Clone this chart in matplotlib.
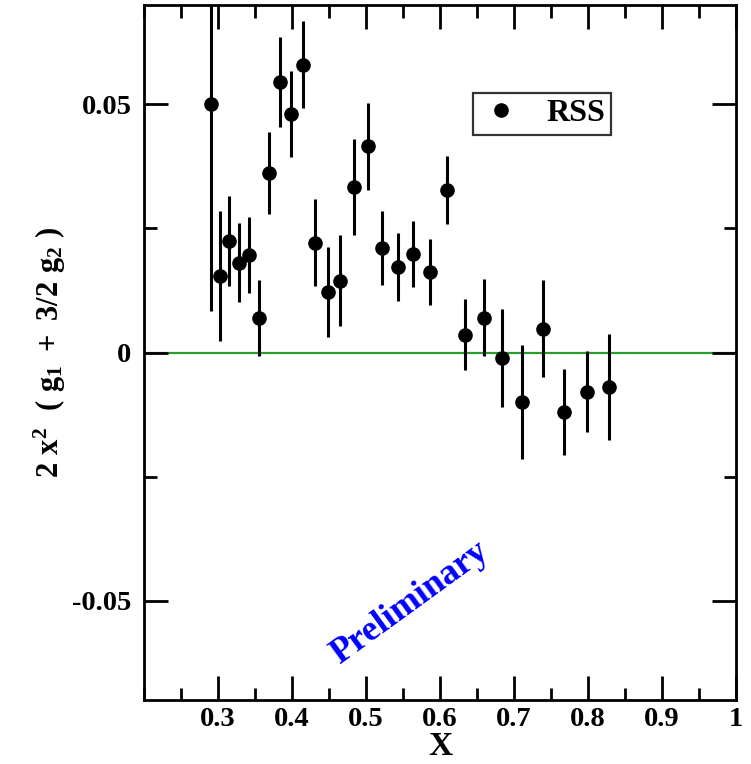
import matplotlib
matplotlib.use("Agg")
import matplotlib.pyplot as plt
from matplotlib.lines import Line2D
from matplotlib.ticker import MultipleLocator

# data
x = [0.290, 0.303, 0.315, 0.328, 0.342, 0.355, 0.369, 0.384, 0.399, 0.415,
     0.431, 0.448, 0.465, 0.484, 0.503, 0.522, 0.543, 0.564, 0.586, 0.610,
     0.634, 0.659, 0.684, 0.711, 0.739, 0.768, 0.798, 0.829]
y = [0.0500, 0.0155, 0.0224, 0.0181, 0.0196, 0.0069, 0.0362, 0.0545, 0.0480, 0.0580,
     0.0221, 0.0122, 0.0145, 0.0333, 0.0415, 0.0210, 0.0172, 0.0198, 0.0162, 0.0327,
     0.0036, 0.0070, -0.0011, -0.0100, 0.0048, -0.0120, -0.0079, -0.0069]
yerr = [0.0417, 0.0131, 0.0091, 0.0080, 0.0077, 0.0077, 0.0083, 0.0090, 0.0087, 0.0087,
        0.0088, 0.0090, 0.0091, 0.0097, 0.0088, 0.0075, 0.0069, 0.0067, 0.0067, 0.0069,
        0.0071, 0.0078, 0.0099, 0.0115, 0.0098, 0.0086, 0.0082, 0.0107]
xticks = [0.3, 0.4, 0.5, 0.6, 0.7, 0.8, 0.9, 1.0]
xticklabels = ["0.3", "0.4", "0.5", "0.6", "0.7", "0.8", "0.9", "1"]
yticks = [-0.05, 0, 0.05]
yticklabels = ["-0.05", "0", "0.05"]

plt.rcParams["font.family"] = "Liberation Serif"
plt.rcParams["font.weight"] = "bold"
plt.rcParams["mathtext.fontset"] = "custom"
plt.rcParams["mathtext.rm"] = "Liberation Serif:bold"
plt.rcParams["mathtext.it"] = "Liberation Serif:bold"
plt.rcParams["mathtext.bf"] = "Liberation Serif:bold"

fig = plt.figure(figsize=(7.51, 7.64), dpi=100)
ax = fig.add_axes([144 / 751, 64 / 764, 592 / 751, 695 / 764])

ax.axhline(0, color="#2a9e2a", lw=1.6, zorder=1)
ax.errorbar(x, y, yerr=yerr, fmt="o", color="black", ms=9.5, elinewidth=2.2,
            capsize=0, zorder=3)

ax.set_xlim(0.2, 1.0)
ax.set_ylim(-0.07, 0.07)
ax.set_xticks(xticks)
ax.set_xticklabels(xticklabels)
ax.set_yticks(yticks)
ax.set_yticklabels(yticklabels)
ax.xaxis.set_minor_locator(MultipleLocator(0.05))
ax.yaxis.set_minor_locator(MultipleLocator(0.025))
ax.tick_params(which="both", direction="in", top=True, right=True, width=2,
               labelsize=20.5)
ax.tick_params(axis="y", pad=9)
ax.tick_params(axis="x", pad=5)
ax.tick_params(which="major", length=17)
ax.tick_params(which="minor", length=9)
for s in ax.spines.values():
    s.set_linewidth(2)

ax.set_xlabel("X", fontsize=24, fontweight="bold")
ax.xaxis.set_label_coords(0.5, -0.044)
ax.set_ylabel(r"$\mathrm{2\ x^2\ \ (\ g_1\ +\ 3/2\ g_2\ )}$", fontsize=22)
ax.yaxis.set_label_coords(-0.128, 0.5)

handle = Line2D([], [], marker="o", ls="none", color="black", ms=9.5)
leg = ax.legend([handle], ["RSS"], loc="upper left", bbox_to_anchor=(0.555, 0.874),
                frameon=True, fancybox=False, edgecolor="black", handlelength=1.4,
                handletextpad=0.7, borderpad=0.2, borderaxespad=0,
                prop={"size": 23, "weight": "bold"})
leg.get_frame().set_linewidth(1.6)

ax.text(0.45, 0.14, "Preliminary", transform=ax.transAxes, color="blue",
        fontsize=26, fontweight="bold", rotation=36, ha="center", va="center")

fig.savefig("out.png", dpi=100)
